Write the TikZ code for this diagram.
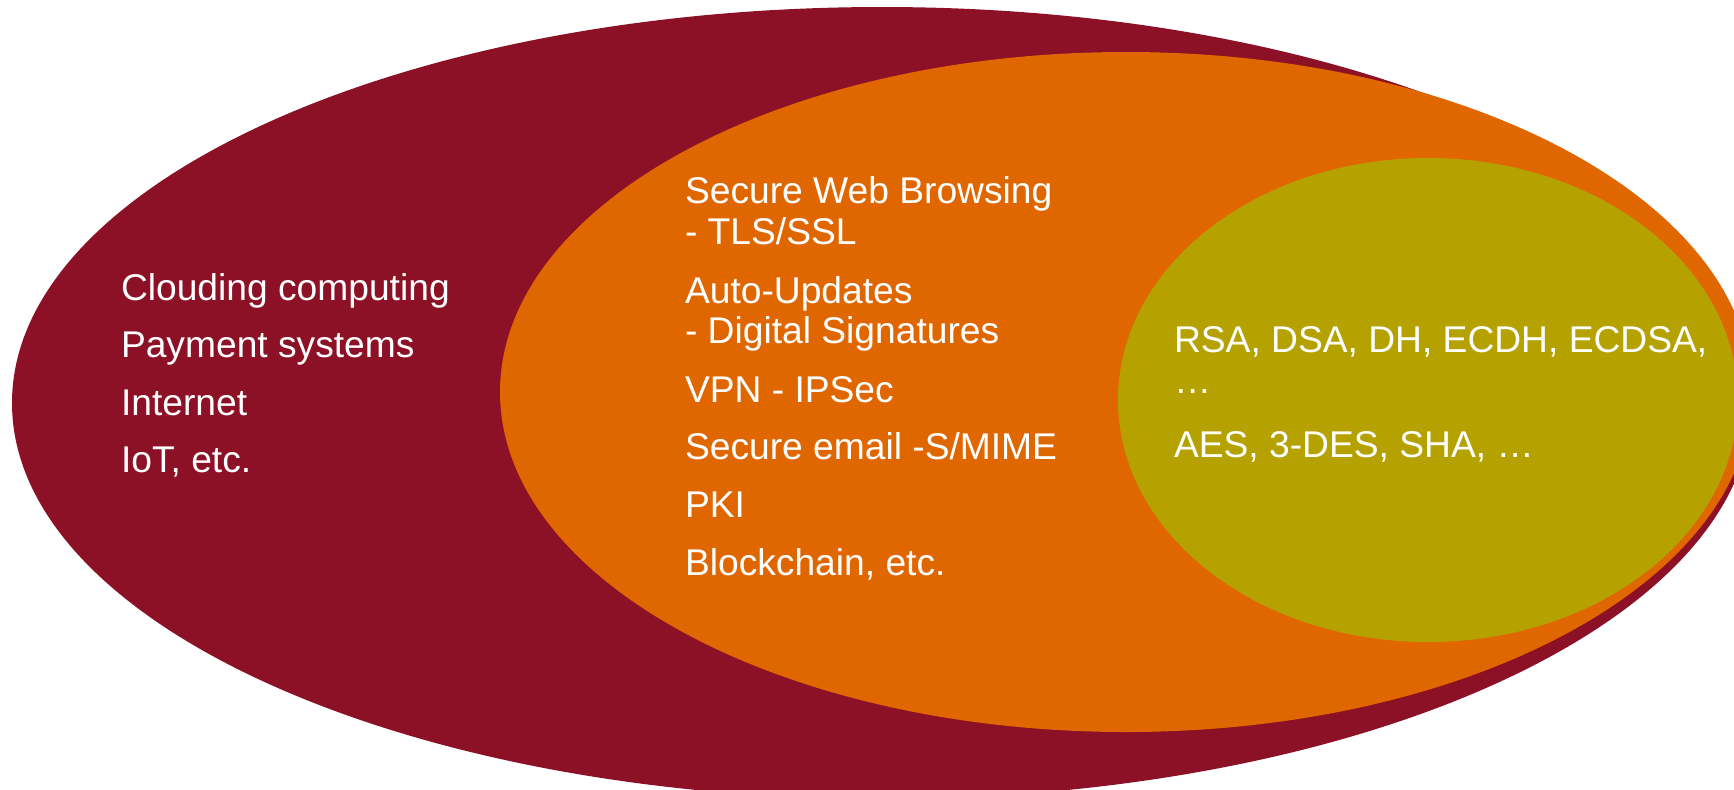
\documentclass[tikz,border=0pt]{standalone}
\usepackage{fontspec}
\setmainfont{Liberation Sans}
\definecolor{appred}{RGB}{140,16,38}
\definecolor{protoorange}{RGB}{224,102,0}
\definecolor{primolive}{RGB}{181,162,0}
\begin{document}
\begin{tikzpicture}[x=0.5pt,y=-0.5pt,
  lbl/.style={anchor=base west,inner sep=0pt,outer sep=0pt,text=white,
    font=\fontsize{18.6}{22}\selectfont}]
\useasboundingbox (0,0) rectangle (1734,789);
\clip (0,0) rectangle (1734,789);
% nested layers: applications, protocols, primitives
\fill[appred] (882,403) ellipse [x radius=435pt, y radius=198pt];
\fill[protoorange] (1126,392) ellipse [x radius=313pt, y radius=170pt];
\fill[primolive] (1428,400) ellipse [x radius=155pt, y radius=121pt];
% applications
\node[lbl] (a1) at (121,300) {Clouding computing};
\node[lbl] (a2) at (121,357) {Payment systems};
\node[lbl] (a3) at (121,415) {Internet};
\node[lbl] (a4) at (121,472) {IoT, etc.};
% protocols
\node[lbl] (p1) at (685,203) {Secure Web Browsing};
\node[lbl] (p1b) at (685,244) {- TLS/SSL};
\node[lbl] (p2) at (685,303) {Auto-Updates};
\node[lbl] (p2b) at (685,343) {- Digital Signatures};
\node[lbl] (p3) at (685,402) {VPN - IPSec};
\node[lbl] (p4) at (685,459) {Secure email -S/MIME};
\node[lbl] (p5) at (685,517) {PKI};
\node[lbl] (p6) at (685,575) {Blockchain, etc.};
% primitives
\node[lbl] (c1) at (1174,352) {RSA, DSA, DH, ECDH, ECDSA,};
\node[lbl] (c1b) at (1174,393) {…};
\node[lbl] (c2) at (1174,457) {AES, 3-DES, SHA, …};
\end{tikzpicture}
\end{document}
